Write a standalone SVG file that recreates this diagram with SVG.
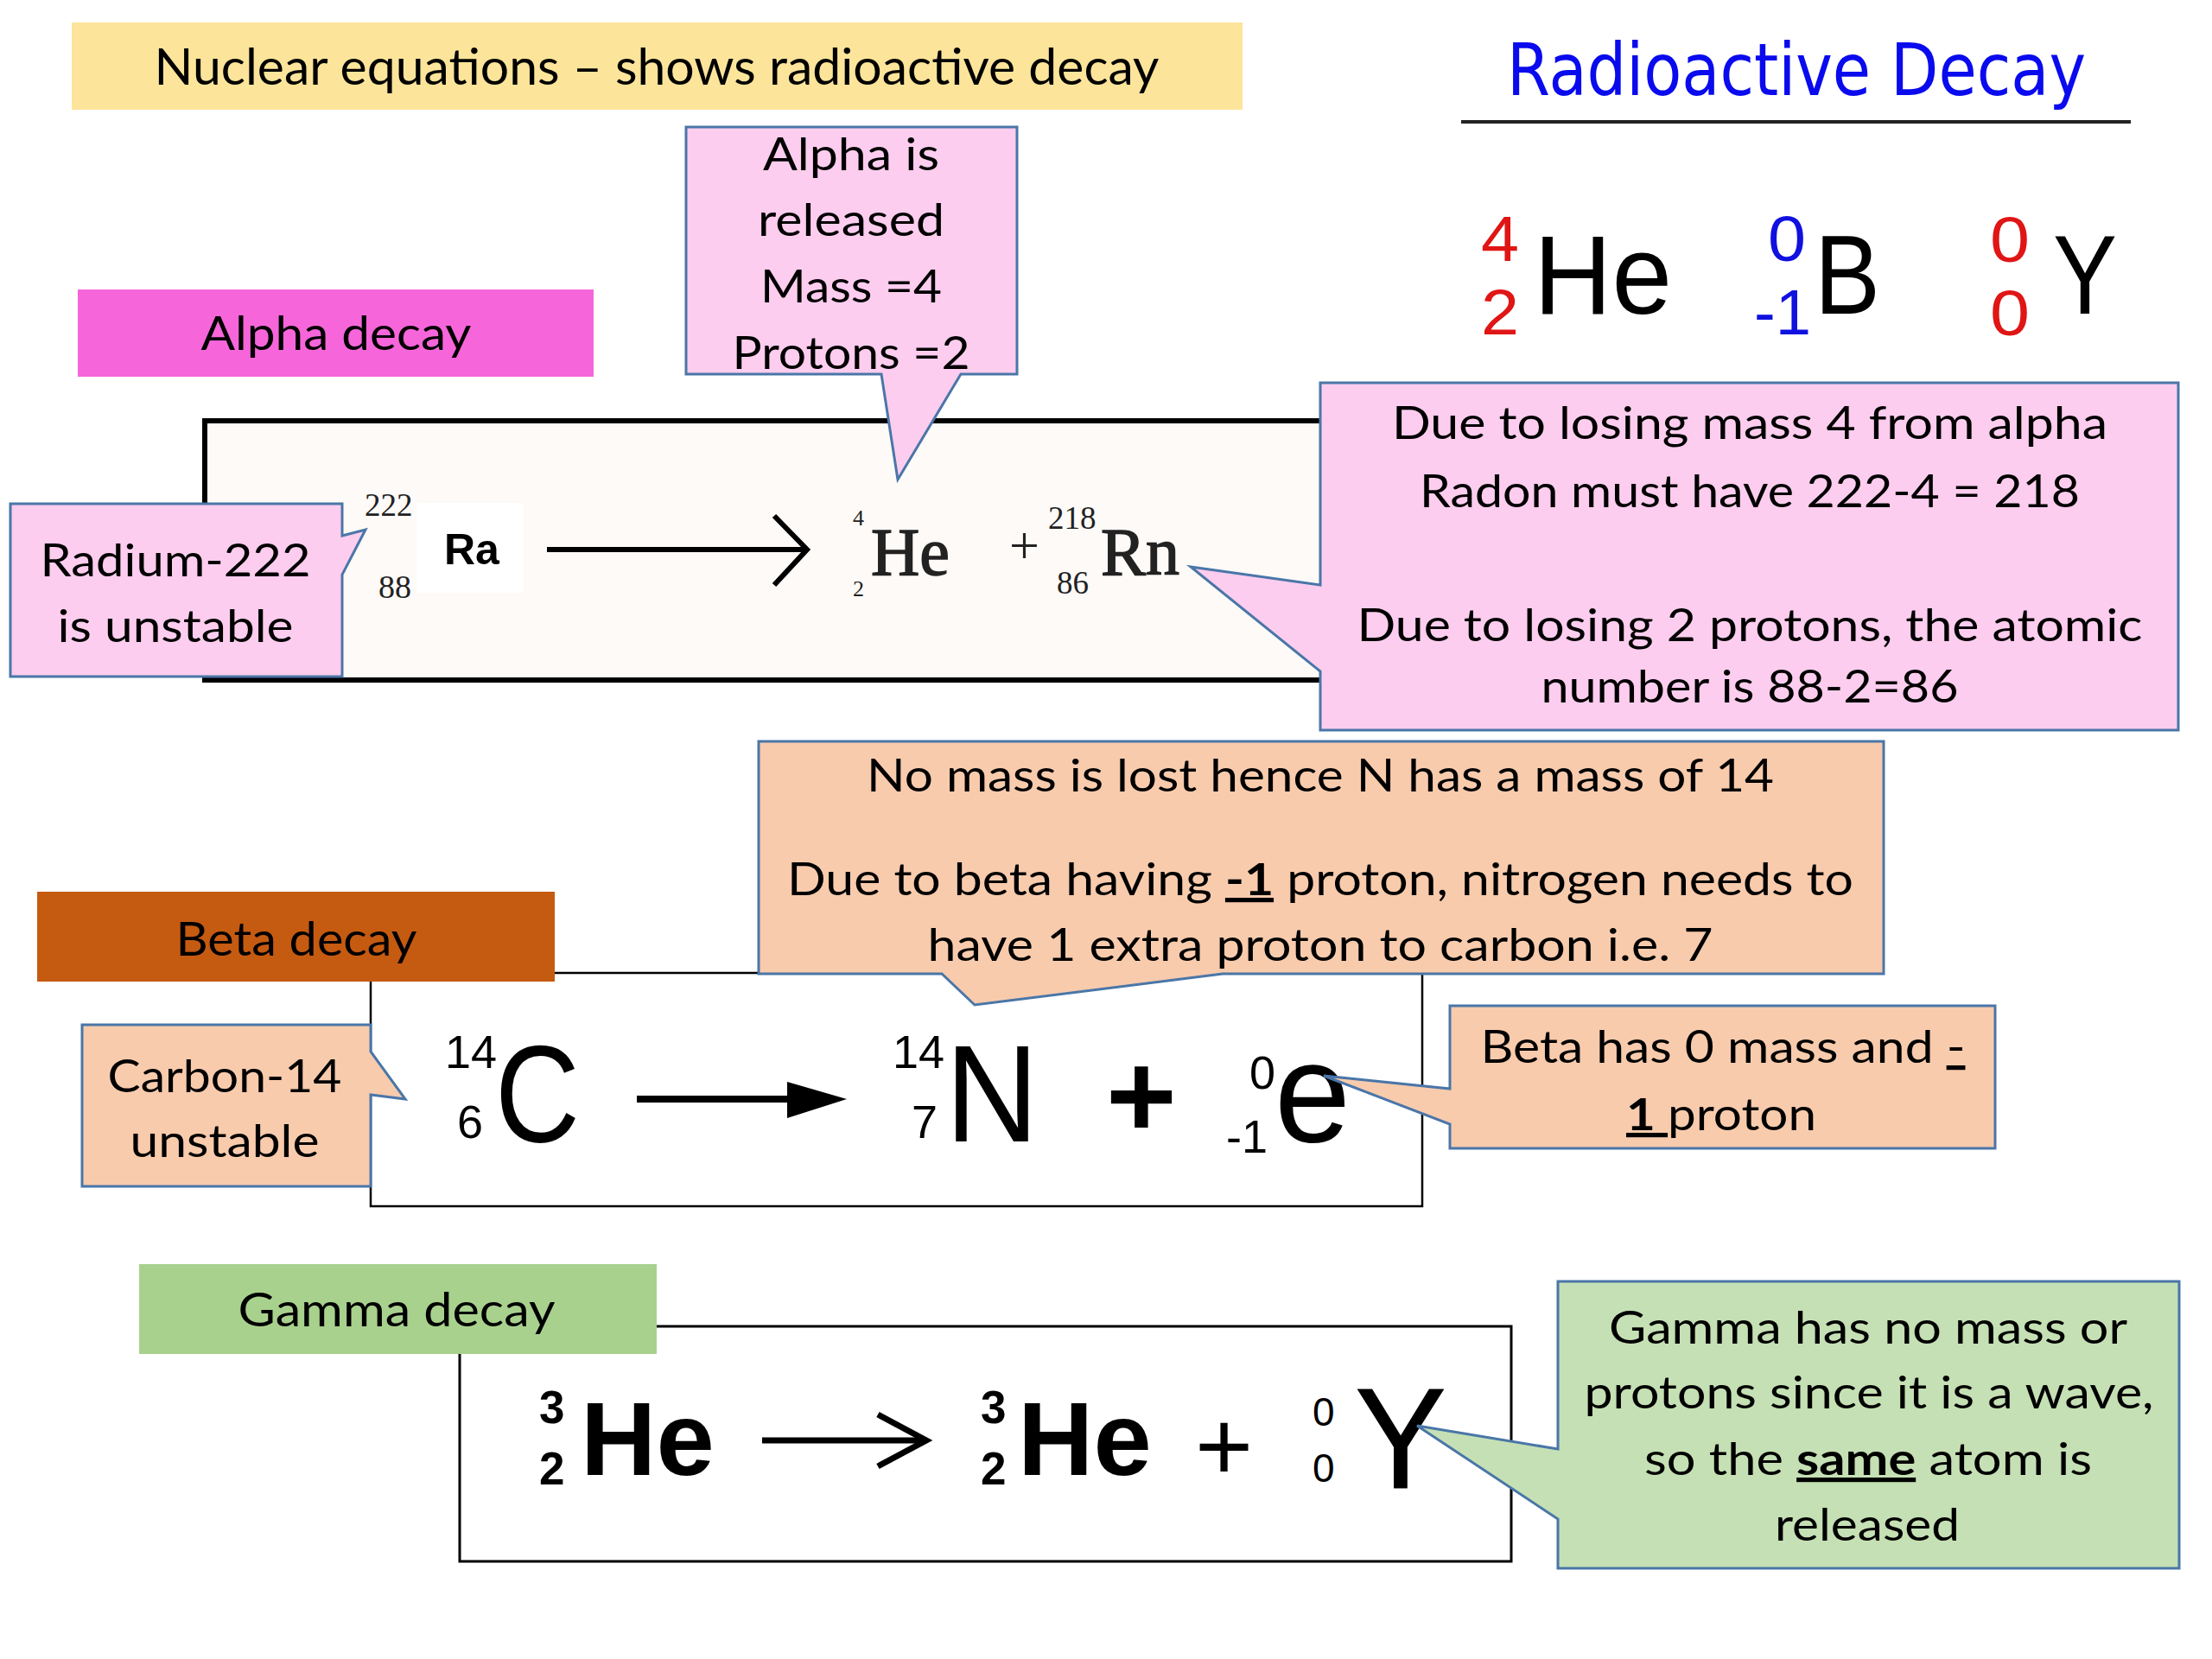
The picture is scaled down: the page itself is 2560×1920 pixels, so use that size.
<svg xmlns="http://www.w3.org/2000/svg" width="2560" height="1920" viewBox="0 0 2560 1920">
<style>
.lbl{font-family:"Lato","Open Sans",sans-serif;fill:#000;text-anchor:middle}
.cl{stroke:#4A76A8;stroke-width:3;stroke-linejoin:miter}
.pink{fill:#FCCDEE}
.orange{fill:#F8CBAD}
.green{fill:#C5E0B4}
.ser{font-family:"Liberation Serif","Times New Roman",serif;fill:#222}
.san{font-family:"Liberation Sans",Arial,sans-serif;fill:#000}
.arr{stroke:#000;fill:none}
</style>
<rect width="2560" height="1920" fill="#fff"/>

<g id="title">
<rect x="83" y="26" width="1355" height="101" fill="#FCE49A"/>
<text class="lbl" x="760" y="98" font-size="58" textLength="1163" lengthAdjust="spacingAndGlyphs">Nuclear equations – shows radioactive decay</text>
</g>

<g id="radioactive-decay-heading">
<text x="1744" y="110" font-family="'DejaVu Sans',sans-serif" font-size="84" fill="#0A0AEE" textLength="670" lengthAdjust="spacingAndGlyphs">Radioactive Decay</text>
<line x1="1691" y1="141" x2="2466" y2="141" stroke="#222" stroke-width="4"/>
</g>

<g id="symbols" class="san">
<text x="1714" y="302" font-size="74" fill="#E01515" textLength="44" lengthAdjust="spacingAndGlyphs">4</text>
<text x="1714" y="387" font-size="74" fill="#E01515" textLength="44" lengthAdjust="spacingAndGlyphs">2</text>
<text x="1775" y="363" font-size="130" textLength="160" lengthAdjust="spacingAndGlyphs">He</text>
<text x="2046" y="302" font-size="74" fill="#1010E0" textLength="44" lengthAdjust="spacingAndGlyphs">0</text>
<text x="2030" y="387" font-size="74" fill="#1010E0" textLength="66" lengthAdjust="spacingAndGlyphs">-1</text>
<text x="2100" y="363" font-size="130" textLength="76" lengthAdjust="spacingAndGlyphs">B</text>
<text x="2303" y="303" font-size="74" fill="#E01515" textLength="46" lengthAdjust="spacingAndGlyphs">0</text>
<text x="2303" y="388" font-size="74" fill="#E01515" textLength="46" lengthAdjust="spacingAndGlyphs">0</text>
<text x="2376" y="363" font-size="130" textLength="74" lengthAdjust="spacingAndGlyphs">Y</text>
</g>

<g id="alpha-equation">
<rect x="237" y="487" width="1310" height="300" fill="#FDFAF8" stroke="#000" stroke-width="6"/>
<rect x="482" y="582" width="124" height="104" fill="#fff"/>
<text class="ser"><tspan x="422" y="597" font-size="37">222</tspan><tspan x="438" y="692" font-size="38">88</tspan></text>
<text class="san" x="514" y="653" font-size="50" font-weight="bold">Ra</text>
<text class="ser" font-size="26"><tspan x="987" y="608">4</tspan><tspan x="987" y="690">2</tspan></text>
<text class="ser" x="1008" y="665" font-size="78" stroke="#222" stroke-width="1.5">He</text>
<text class="ser" x="1168" y="652" font-size="62">+</text>
<text class="ser" font-size="37"><tspan x="1213" y="612">218</tspan><tspan x="1223" y="687">86</tspan></text>
<text class="ser" x="1274" y="665" font-size="78" stroke="#222" stroke-width="1.5">Rn</text>
</g>

<g id="alpha-label">
<rect x="90" y="335" width="597" height="101" fill="#F666DA"/>
<text class="lbl" x="389" y="405" font-size="55" textLength="313" lengthAdjust="spacingAndGlyphs">Alpha decay</text>
</g>

<g id="beta-equation">
<rect x="429" y="1126" width="1217" height="270" fill="#fff" stroke="#000" stroke-width="2.5"/>
<text class="san" font-size="54"><tspan x="515" y="1236">14</tspan><tspan x="529" y="1317">6</tspan></text>
<text class="san" x="573" y="1321" font-size="160" textLength="98" lengthAdjust="spacingAndGlyphs">C</text>
<text class="san" font-size="54"><tspan x="1033" y="1236">14</tspan><tspan x="1055" y="1317">7</tspan></text>
<text class="san" x="1094" y="1321" font-size="160" textLength="108" lengthAdjust="spacingAndGlyphs">N</text>
<text class="san" x="1280" y="1316" font-size="140" font-weight="bold">+</text>
<text class="san" font-size="54"><tspan x="1446" y="1260">0</tspan><tspan x="1419" y="1334">-1</tspan></text>
<text class="san" x="1475" y="1321" font-size="165" textLength="88" lengthAdjust="spacingAndGlyphs">e</text>
</g>

<g id="beta-label">
<rect x="43" y="1032" width="599" height="104" fill="#C55A11"/>
<text class="lbl" x="343" y="1106" font-size="54" textLength="279" lengthAdjust="spacingAndGlyphs">Beta decay</text>
</g>

<g id="gamma-equation">
<rect x="532" y="1535" width="1217" height="272" fill="#fff" stroke="#000" stroke-width="3"/>
<text class="san" font-size="53" font-weight="bold"><tspan x="624" y="1647">3</tspan><tspan x="624" y="1718">2</tspan></text>
<text class="san" x="672" y="1707" font-size="121" font-weight="bold">He</text>
<text class="san" font-size="53" font-weight="bold"><tspan x="1135" y="1647">3</tspan><tspan x="1135" y="1718">2</tspan></text>
<text class="san" x="1178" y="1707" font-size="121" font-weight="bold">He</text>
<text class="san" x="1383" y="1713" font-size="115">+</text>
<text class="san" font-size="46"><tspan x="1519" y="1650">0</tspan><tspan x="1519" y="1715">0</tspan></text>
<text class="san" x="1568" y="1722" font-size="165" stroke="#000" stroke-width="1" textLength="106" lengthAdjust="spacingAndGlyphs">Y</text>
</g>

<g id="gamma-label">
<rect x="161" y="1463" width="599" height="104" fill="#A9D18E"/>
<text class="lbl" x="459" y="1535" font-size="54" textLength="367" lengthAdjust="spacingAndGlyphs">Gamma decay</text>
</g>

<g id="connectors">
<line class="arr" x1="633" y1="636" x2="930" y2="636" stroke-width="6"/>
<polyline class="arr" points="896,597 934,636 896,677" stroke-width="6"/>
<line class="arr" x1="737" y1="1272" x2="920" y2="1272" stroke-width="8"/>
<polygon points="911,1252 980,1272 911,1294" fill="#000"/>
<line class="arr" x1="882" y1="1667" x2="1068" y2="1667" stroke-width="7"/>
<polyline class="arr" points="1016,1637 1072,1667 1016,1697" stroke-width="7"/>
</g>

<g id="callout-alpha-released">
<path class="cl pink" d="M794,147 H1177 V433 H1112 L1039,555 L1020,433 H794 Z"/>
<text class="lbl" x="985" y="197" font-size="52" textLength="204" lengthAdjust="spacingAndGlyphs">Alpha is</text>
<text class="lbl" x="985" y="273" font-size="52" textLength="216" lengthAdjust="spacingAndGlyphs">released</text>
<text class="lbl" x="985" y="350" font-size="52" textLength="210" lengthAdjust="spacingAndGlyphs">Mass =4</text>
<text class="lbl" x="985" y="427" font-size="52" textLength="275" lengthAdjust="spacingAndGlyphs">Protons =2</text>
</g>

<g id="callout-radium">
<path class="cl pink" d="M12,583 H396 V620 L423,613 L396,665 V783 H12 Z"/>
<text class="lbl" x="203" y="667" font-size="52" textLength="313" lengthAdjust="spacingAndGlyphs">Radium-222</text>
<text class="lbl" x="203" y="743" font-size="52" textLength="273" lengthAdjust="spacingAndGlyphs">is unstable</text>
</g>

<g id="callout-radon">
<path class="cl pink" d="M1528,443 H2521 V845 H1528 V777 L1378,656 L1528,677 Z"/>
<text class="lbl" x="2025" y="508" font-size="52" textLength="828" lengthAdjust="spacingAndGlyphs">Due to losing mass 4 from alpha</text>
<text class="lbl" x="2025" y="587" font-size="52" textLength="764" lengthAdjust="spacingAndGlyphs">Radon must have 222-4 = 218</text>
<text class="lbl" x="2025" y="742" font-size="52" textLength="909" lengthAdjust="spacingAndGlyphs">Due to losing 2 protons, the atomic</text>
<text class="lbl" x="2025" y="813" font-size="52" textLength="483" lengthAdjust="spacingAndGlyphs">number is 88-2=86</text>
</g>

<g id="callout-nitrogen">
<path class="cl orange" d="M878,858 H2180 V1127 H1415 L1128,1163 L1090,1127 H878 Z"/>
<text class="lbl" x="1528" y="916" font-size="52" textLength="1050" lengthAdjust="spacingAndGlyphs">No mass is lost hence N has a mass of 14</text>
<text class="lbl" x="1528" y="1036" font-size="52" textLength="1234" lengthAdjust="spacingAndGlyphs">Due to beta having <tspan font-weight="bold" text-decoration="underline">-1</tspan> proton, nitrogen needs to</text>
<text class="lbl" x="1528" y="1112" font-size="52" textLength="909" lengthAdjust="spacingAndGlyphs">have 1 extra proton to carbon i.e. 7</text>
</g>

<g id="callout-carbon">
<path class="cl orange" d="M95,1186 H429 V1217 L469,1272 L429,1267 V1373 H95 Z"/>
<text class="lbl" x="260" y="1264" font-size="52" textLength="271" lengthAdjust="spacingAndGlyphs">Carbon-14</text>
<text class="lbl" x="260" y="1339" font-size="52" textLength="219" lengthAdjust="spacingAndGlyphs">unstable</text>
</g>

<g id="callout-beta">
<path class="cl orange" d="M1678,1164 H2309 V1329 H1678 V1301 L1532,1245 L1678,1260 Z"/>
<text class="lbl" x="1994" y="1230" font-size="52" textLength="561" lengthAdjust="spacingAndGlyphs">Beta has 0 mass and <tspan text-decoration="underline">-</tspan></text>
<text class="lbl" x="1992" y="1308" font-size="52" textLength="220" lengthAdjust="spacingAndGlyphs"><tspan font-weight="bold" text-decoration="underline">1 </tspan>proton</text>
</g>

<g id="callout-gamma">
<path class="cl green" d="M1803,1483 H2522 V1815 H1803 V1758 L1640,1650 L1803,1677 Z"/>
<text class="lbl" x="2162" y="1555" font-size="52" textLength="600" lengthAdjust="spacingAndGlyphs">Gamma has no mass or</text>
<text class="lbl" x="2163" y="1630" font-size="52" textLength="659" lengthAdjust="spacingAndGlyphs">protons since it is a wave,</text>
<text class="lbl" x="2162" y="1707" font-size="52" textLength="518" lengthAdjust="spacingAndGlyphs">so the <tspan font-weight="bold" text-decoration="underline">same</tspan> atom is</text>
<text class="lbl" x="2161" y="1783" font-size="52" textLength="214" lengthAdjust="spacingAndGlyphs">released</text>
</g>
</svg>
